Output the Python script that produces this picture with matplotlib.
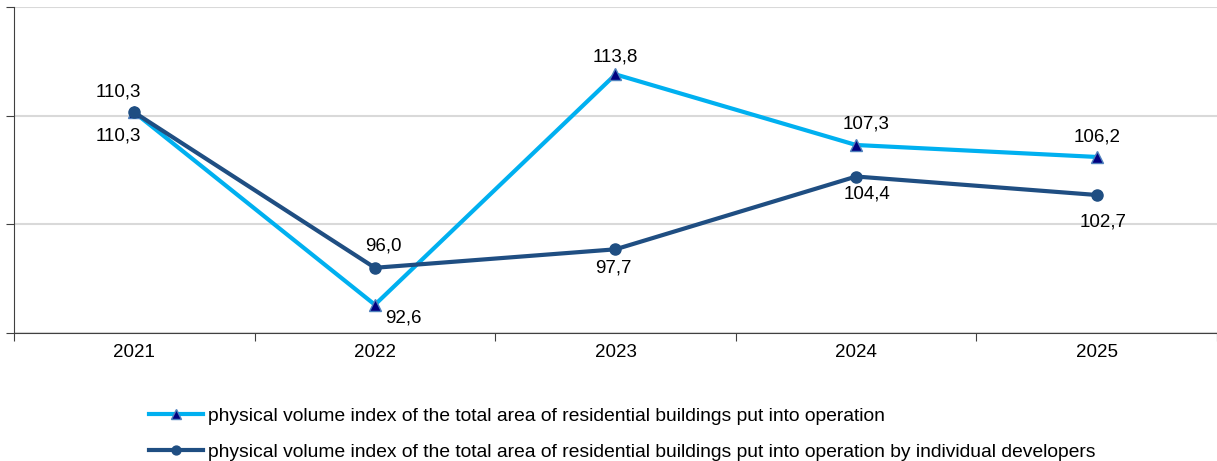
import matplotlib
matplotlib.use("Agg")
import matplotlib.pyplot as plt
from matplotlib.ticker import MultipleLocator, FixedLocator

years = ["2021", "2022", "2023", "2024", "2025"]
total_area = [110.3, 92.6, 113.8, 107.3, 106.2]
individual = [110.3, 96.0, 97.7, 104.4, 102.7]

label_total = "physical volume index of the total area of residential buildings put into operation"
label_indiv = "physical volume index of the total area of residential buildings put into operation by individual developers"

# label offsets in pixels (dx, dy)
off_total = [(-16, -24), (28, -13), (0, 17), (10, 21), (0, 20)]
off_indiv = [(-16, 20), (8, 22), (-2, -19), (11, -17), (6, -27)]

plt.rcParams['font.family'] = ['Liberation Sans', 'DejaVu Sans']

fig = plt.figure(figsize=(12.17, 4.61), dpi=100)
ax = fig.add_axes([0.0115, 0.2777, 0.9885, 0.7071])

x = list(range(len(years)))
ax.plot(x, total_area, color='#00B0F0', lw=3, marker='^', ms=9,
        mfc='#000080', mec='#4F81BD', mew=1, label=label_total, zorder=3)
ax.plot(x, individual, color='#1F4E82', lw=3, marker='o', ms=8,
        mfc='#1F4E82', mec='#1F4E82', label=label_indiv, zorder=4)

for i, v in enumerate(total_area):
    ax.annotate(f"{v:.1f}".replace('.', ','), (i, v), xytext=off_total[i],
                textcoords='offset pixels', ha='center', va='center', fontsize=13.5)
for i, v in enumerate(individual):
    ax.annotate(f"{v:.1f}".replace('.', ','), (i, v), xytext=off_indiv[i],
                textcoords='offset pixels', ha='center', va='center', fontsize=13.5)

ax.set_xlim(-0.5, len(years) - 0.5)
ax.set_ylim(90, 120)
ax.yaxis.set_major_locator(MultipleLocator(10))
ax.set_yticklabels([])
ax.grid(axis='y', color='#D9D9D9', lw=1.5)
ax.set_axisbelow(True)

ax.xaxis.set_major_locator(FixedLocator([i + 0.5 for i in range(-1, len(years))]))
ax.xaxis.set_minor_locator(FixedLocator(x))
ax.set_xticklabels([], minor=False)
ax.set_xticklabels(years, minor=True, fontsize=13.5)
ax.tick_params(axis='x', which='minor', length=0, pad=8)
ax.tick_params(axis='x', which='major', length=6, color='#404040', direction='out')
ax.tick_params(axis='y', length=6, color='#404040', direction='out')

for s in ['top', 'right']:
    ax.spines[s].set_visible(False)
ax.spines['left'].set_color('#404040')
ax.spines['bottom'].set_color('#404040')

fig.legend(loc='lower left', bbox_to_anchor=(0.108, -0.037), frameon=False,
           handlelength=2.8, handletextpad=0.25, labelspacing=0.95, markerscale=0.8,
           prop={'family': ['Liberation Sans'], 'size': 13.9})

fig.savefig("out.png", dpi=100)
